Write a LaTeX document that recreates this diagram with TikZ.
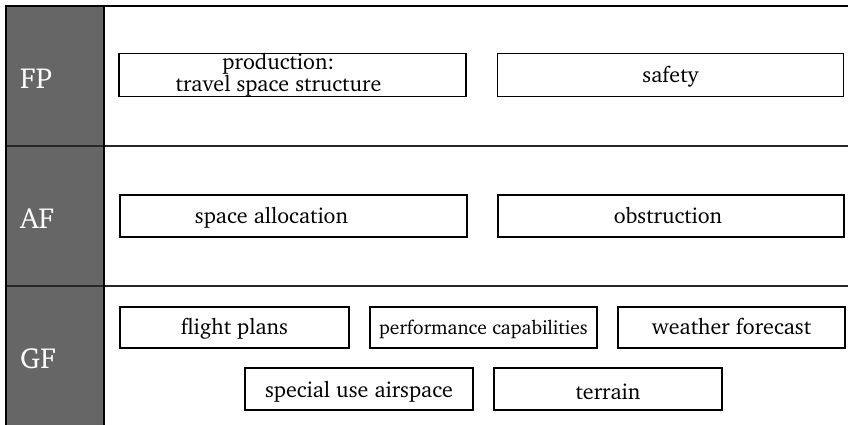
\documentclass[tikz,border=0pt]{standalone}
\usepackage[T1]{fontenc}
\usepackage{charter}
\begin{document}
\begin{tikzpicture}[x=1pt,y=-1pt,
  itembox/.style={draw=black,line width=1.6pt,rectangle,inner sep=0pt,font=\fontsize{22}{19}\selectfont,align=center},
  onerow/.style={itembox,text height=17pt,text depth=2.5pt},
  rowlabel/.style={anchor=west,text=white,inner sep=0pt,font=\fontsize{29}{30}\selectfont},
  frame/.style={line width=2pt,draw=black},
  divider/.style={line width=1.4pt,draw=black!85}]
\useasboundingbox (0,0) rectangle (848,424);
% left dark column
\fill[black!60] (6,6) rectangle (104,426);
\draw[divider] (6,146) -- (848,146);
\draw[divider] (6,286) -- (848,286);
\draw[frame] (6,426) -- (6,6) -- (848,6);
\draw[frame] (104,6) -- (104,426);
% row labels
\node[rowlabel] (fp) at (20,79) {FP};
\node[rowlabel] (af) at (20,219) {AF};
\node[rowlabel] (gf) at (20,359) {GF};
% FP row
\node[itembox,minimum width=347pt,minimum height=43pt] (prod) at (292.5,75) {\hspace*{-28pt}production:\\\hspace*{-28pt}travel space structure};
\node[onerow,minimum width=346pt,minimum height=43pt] (safety) at (670.5,75) {safety};
% AF row
\node[onerow,minimum width=347pt,minimum height=42pt] (alloc) at (293.5,216) {\hspace*{-44pt}space allocation};
\node[onerow,minimum width=346pt,minimum height=42pt] (obst) at (671,216) {\hspace*{-6pt}obstruction};
% GF row
\node[onerow,minimum width=229pt,minimum height=41pt] (fplans) at (234.5,327.5) {flight plans};
\node[onerow,minimum width=227pt,minimum height=41pt,font=\fontsize{19.5}{21}\selectfont] (perf) at (483.5,327.5) {performance capabilities};
\node[onerow,minimum width=227pt,minimum height=41pt] (weather) at (731.5,327.5) {weather forecast};
\node[onerow,minimum width=228pt,minimum height=42pt] (sua) at (359,389) {\raisebox{-1.5pt}{special use airspace}};
\node[onerow,minimum width=228pt,minimum height=42pt] (terrain) at (608,389) {\raisebox{-3pt}{terrain}};
\end{tikzpicture}
\end{document}
